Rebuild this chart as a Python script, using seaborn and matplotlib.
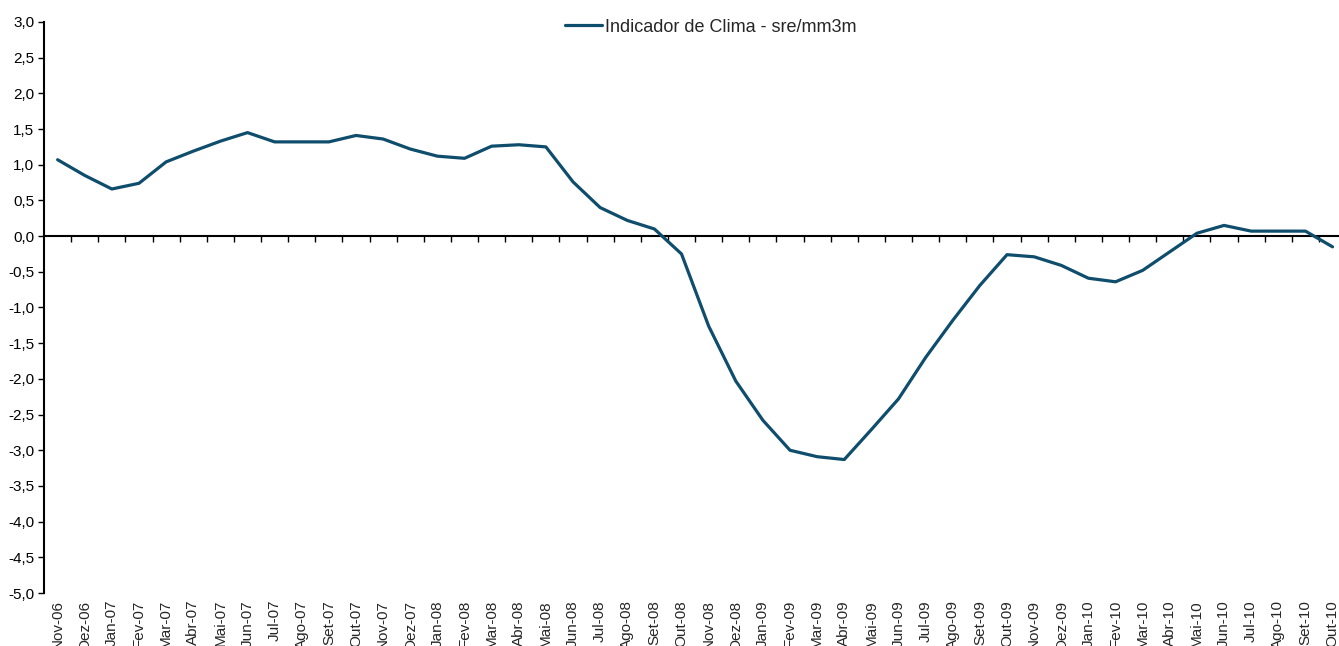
import pandas as pd
import seaborn as sns
import matplotlib.pyplot as plt
from matplotlib.ticker import FuncFormatter

# Indicador de Clima - sre/mm3m, Nov-06 .. Out-10
months = ['Nov-06', 'Dez-06', 'Jan-07', 'Fev-07', 'Mar-07', 'Abr-07', 'Mai-07', 'Jun-07',
          'Jul-07', 'Ago-07', 'Set-07', 'Out-07', 'Nov-07', 'Dez-07', 'Jan-08', 'Fev-08',
          'Mar-08', 'Abr-08', 'Mai-08', 'Jun-08', 'Jul-08', 'Ago-08', 'Set-08', 'Out-08',
          'Nov-08', 'Dez-08', 'Jan-09', 'Fev-09', 'Mar-09', 'Abr-09', 'Mai-09', 'Jun-09',
          'Jul-09', 'Ago-09', 'Set-09', 'Out-09', 'Nov-09', 'Dez-09', 'Jan-10', 'Fev-10',
          'Mar-10', 'Abr-10', 'Mai-10', 'Jun-10', 'Jul-10', 'Ago-10', 'Set-10', 'Out-10']

clima = [1.07, 0.85, 0.66, 0.74, 1.04, 1.19, 1.33, 1.45,
         1.32, 1.32, 1.32, 1.41, 1.36, 1.22, 1.12, 1.09,
         1.26, 1.28, 1.25, 0.76, 0.40, 0.22, 0.10, -0.25,
         -1.26, -2.03, -2.58, -3.00, -3.09, -3.13, -2.71, -2.28,
         -1.70, -1.18, -0.69, -0.26, -0.29, -0.41, -0.59, -0.64,
         -0.48, -0.22, 0.04, 0.15, 0.07, 0.07, 0.07, -0.15]

y_ticks = [-5.0, -4.5, -4.0, -3.5, -3.0, -2.5, -2.0, -1.5, -1.0, -0.5,
           0.0, 0.5, 1.0, 1.5, 2.0, 2.5, 3.0]

label = 'Indicador de Clima - sre/mm3m'
line_color = '#0f4d6d'


def main():
    sns.set_style('white')
    plt.rcParams['font.family'] = ['Liberation Sans', 'DejaVu Sans']

    df = pd.DataFrame({'pos': range(len(months)), 'valor': clima})

    fig = plt.figure(figsize=(13.39, 6.46), dpi=100)
    ax = fig.add_axes([0.0329, 0.082, 0.9724, 0.884])

    sns.lineplot(data=df, x='pos', y='valor', ax=ax, color=line_color,
                 linewidth=2.3, label=label, legend=False)

    ax.set_xlim(-0.5, len(months) - 0.5)
    ax.set_ylim(-5, 3)

    # y axis: comma decimals, ticks outward
    ax.set_yticks(y_ticks)
    ax.yaxis.set_major_formatter(FuncFormatter(lambda v, p: f'{v:.1f}'.replace('.', ',')))
    ax.tick_params(axis='y', direction='out', length=4, width=1, left=True,
                   labelsize=11, pad=3, colors='black')

    # month labels sit at the bottom, no tick marks there
    ax.set_xticks(range(len(months)))
    ax.set_xticklabels(months, rotation=90, va='top')
    ax.tick_params(axis='x', length=0, labelsize=11, pad=5)
    ax.set_xlabel('')
    ax.set_ylabel('')

    for side in ['top', 'right', 'bottom']:
        ax.spines[side].set_visible(False)
    ax.spines['left'].set_color('black')
    ax.spines['left'].set_linewidth(1.5)

    # category axis drawn at zero, with tick marks between the months (pointing down)
    zero_frac = (0 - (-5)) / (3 - (-5))
    sec = ax.secondary_xaxis(zero_frac)
    sec.xaxis.set_ticks_position('bottom')
    sec.set_xticks([i - 0.5 for i in range(1, len(months) + 1)])
    sec.set_xticklabels([])
    sec.tick_params(axis='x', which='both', direction='out', length=4, width=1,
                    colors='black', top=False, bottom=True)
    for side in ['top', 'left', 'right']:
        sec.spines[side].set_visible(False)
    sec.spines['bottom'].set_visible(True)
    sec.spines['bottom'].set_color('black')
    sec.spines['bottom'].set_linewidth(1.5)

    handles, labels = ax.get_legend_handles_labels()
    fig.legend(handles, labels, loc='center', bbox_to_anchor=(0.5306, 0.958),
               frameon=False, fontsize=13, handlelength=2.05, handletextpad=0.15)

    fig.savefig('out.png', dpi=100)


if __name__ == '__main__':
    main()
